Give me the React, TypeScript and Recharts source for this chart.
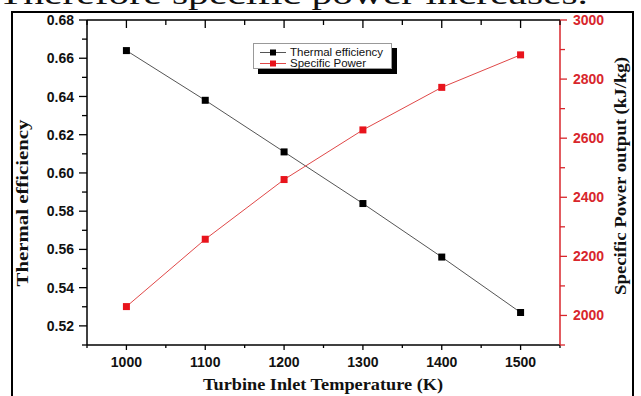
import React from 'react';
import { LineChart, Line, XAxis, YAxis, Legend } from 'recharts';

const temperatures = [1000, 1100, 1200, 1300, 1400, 1500];
const thermalEfficiency = [0.664, 0.638, 0.611, 0.584, 0.556, 0.527];
const specificPower = [2030, 2258, 2460, 2628, 2772, 2882];

const xTicks = [950, 1000, 1050, 1100, 1150, 1200, 1250, 1300, 1350, 1400, 1450, 1500, 1550];
const xLabels = [1000, 1100, 1200, 1300, 1400, 1500];
const leftTicks = [0.51, 0.52, 0.53, 0.54, 0.55, 0.56, 0.57, 0.58, 0.59, 0.6, 0.61, 0.62, 0.63, 0.64, 0.65, 0.66, 0.67, 0.68];
const leftLabels = [0.52, 0.54, 0.56, 0.58, 0.6, 0.62, 0.64, 0.66, 0.68];
const rightTicks = [1900, 2000, 2100, 2200, 2300, 2400, 2500, 2600, 2700, 2800, 2900, 3000];
const rightLabels = [2000, 2200, 2400, 2600, 2800, 3000];
const legendOrder = ['Thermal efficiency', 'Specific Power'];

const data = temperatures.map((t, i) => ({
  t,
  eff: thermalEfficiency[i],
  power: specificPower[i],
}));

const SANS = '"Liberation Sans", Arial, sans-serif';
const SERIF = '"Liberation Serif", "Times New Roman", serif';
const RED = '#d8262c';
const RED_MARK = '#e8141c';

const isIn = (arr: number[], v: number) => arr.some((a) => Math.abs(a - v) < 1e-6);

const LeftTick = (props: any) => {
  const { x, y, payload } = props;
  const v = payload.value as number;
  const major = isIn(leftLabels, v);
  const len = major ? 8 : 5;
  return (
    <g>
      <line x1={x - len} x2={x} y1={y} y2={y} stroke="#000" strokeWidth={1.3} />
      {major && (
        <text x={x - len - 5} y={y} dy="0.36em" textAnchor="end" fontFamily={SANS} fontWeight="bold" fontSize={14} fill="#111">
          {v.toFixed(2)}
        </text>
      )}
    </g>
  );
};

const RightTick = (props: any) => {
  const { x, y, payload } = props;
  const v = payload.value as number;
  const major = isIn(rightLabels, v);
  const len = major ? 7 : 5;
  return (
    <g>
      <line x1={x} x2={x + len} y1={y} y2={y} stroke={RED} strokeWidth={1.3} />
      {major && (
        <text x={x + 13} y={y} dy="0.36em" textAnchor="start" fontFamily={SANS} fontWeight="bold" fontSize={14} fill={RED}>
          {v}
        </text>
      )}
    </g>
  );
};

const BottomTick = (props: any) => {
  const { x, y, payload } = props;
  const v = payload.value as number;
  const major = isIn(xLabels, v);
  const len = major ? 5 : 3;
  return (
    <g>
      <line x1={x} x2={x} y1={y} y2={y + len} stroke="#000" strokeWidth={1.3} />
      {major && (
        <text x={x} y={y + 22} textAnchor="middle" fontFamily={SANS} fontWeight="bold" fontSize={14} fill="#111">
          {v}
        </text>
      )}
    </g>
  );
};

const TopTick = (props: any) => {
  const { x, y, payload } = props;
  const v = payload.value as number;
  const major = isIn(xLabels, v);
  const len = major ? 8 : 5;
  return <line x1={x} x2={x} y1={y} y2={y + len} stroke="#000" strokeWidth={1.3} />;
};

const squareDot = (color: string) => (p: any) => (
  <rect key={`d-${color}-${p.index}`} x={p.cx - 3.5} y={p.cy - 3.5} width={7} height={7} fill={color} />
);

const legendMarks: Record<string, { line: string; mark: string }> = {
  'Thermal efficiency': { line: '#555', mark: '#000' },
  'Specific Power': { line: '#e04848', mark: RED_MARK },
};

const LegendBox = (props: any) => {
  const payload = ([...(props.payload || [])] as any[]).sort(
    (a, b) => legendOrder.indexOf(a.value) - legendOrder.indexOf(b.value)
  );
  return (
    <div style={{ position: 'relative', width: 139, height: 26 }}>
      <div style={{ position: 'absolute', left: 5, top: 5, width: 139, height: 26, background: '#000' }} />
      <div
        style={{
          position: 'absolute',
          left: 0,
          top: 0,
          width: 139,
          height: 26,
          boxSizing: 'border-box',
          background: '#fff',
          border: '1px solid #999',
        }}
      >
        {payload.map((entry: any, i: number) => {
          const m = legendMarks[entry.value] || { line: entry.color, mark: entry.color };
          return (
            <div key={i} style={{ position: 'absolute', left: 5, top: 3 + i * 11, height: 11, display: 'flex', alignItems: 'center' }}>
              <svg width={28} height={11} style={{ display: 'block' }}>
                <line x1={1} x2={27} y1={5.5} y2={5.5} stroke={m.line} strokeWidth={1} />
                <rect x={11} y={2.5} width={6} height={6} fill={m.mark} />
              </svg>
              <span style={{ marginLeft: 3, fontFamily: SANS, fontSize: 11.5, lineHeight: '11px', color: '#111', whiteSpace: 'nowrap' }}>
                {entry.value}
              </span>
            </div>
          );
        })}
      </div>
    </div>
  );
};

export default function App() {
  return (
    <div style={{ position: 'fixed', left: 0, top: 0, width: 641, height: 396, overflow: 'hidden', background: '#fff' }}>
      <div
        style={{
          position: 'absolute',
          left: 11,
          top: 11,
          width: 623,
          height: 430,
          border: '2px solid #000',
          boxSizing: 'border-box',
        }}
      />
      <div style={{ position: 'absolute', left: 0, top: 0 }}>
        <LineChart width={641} height={396} data={data} margin={{ top: 0, right: 41, bottom: 21, left: 47 }}>
          <XAxis
            xAxisId="bottom"
            dataKey="t"
            type="number"
            domain={[950, 1550]}
            ticks={xTicks}
            interval={0}
            height={30}
            tickSize={0}
            tickMargin={0}
            tickLine={false}
            tick={<BottomTick />}
            axisLine={{ stroke: '#000', strokeWidth: 1.5 }}
          />
          <XAxis
            xAxisId="top"
            orientation="top"
            dataKey="t"
            type="number"
            domain={[950, 1550]}
            ticks={xTicks}
            interval={0}
            height={20}
            tickSize={0}
            tickMargin={0}
            tickLine={false}
            tick={<TopTick />}
            axisLine={{ stroke: '#000', strokeWidth: 1.5 }}
          />
          <YAxis
            yAxisId="left"
            orientation="left"
            type="number"
            domain={[0.51, 0.68]}
            ticks={leftTicks}
            interval={0}
            width={40}
            tickSize={0}
            tickMargin={0}
            tickLine={false}
            tick={<LeftTick />}
            axisLine={{ stroke: '#000', strokeWidth: 1.5 }}
          />
          <YAxis
            yAxisId="right"
            orientation="right"
            type="number"
            domain={[1900, 3000]}
            ticks={rightTicks}
            interval={0}
            width={40}
            tickSize={0}
            tickMargin={0}
            tickLine={false}
            tick={<RightTick />}
            axisLine={{ stroke: RED, strokeWidth: 1.5 }}
          />
          <Legend
            layout="horizontal"
            verticalAlign="middle"
            align="center"
            wrapperStyle={{ left: 253, top: 43, width: 145, height: 32 }}
            content={<LegendBox />}
          />
          <Line
            xAxisId="bottom"
            yAxisId="left"
            dataKey="eff"
            name="Thermal efficiency"
            stroke="#555"
            strokeWidth={1}
            dot={squareDot('#000')}
            activeDot={false}
            isAnimationActive={false}
          />
          <Line
            xAxisId="bottom"
            yAxisId="right"
            dataKey="power"
            name="Specific Power"
            stroke="#e04848"
            strokeWidth={1}
            dot={squareDot(RED_MARK)}
            activeDot={false}
            isAnimationActive={false}
          />
        </LineChart>
      </div>
      <svg width={641} height={396} style={{ position: 'absolute', left: 0, top: 0, pointerEvents: 'none' }}>
        <text x={-2} y={4} fontFamily={SERIF} fontSize={30} fill="#111" textLength={590} lengthAdjust="spacingAndGlyphs">
          Therefore specific power increases.
        </text>
        <text
          x={28}
          y={203}
          transform="rotate(-90 28 203)"
          textAnchor="middle"
          fontFamily={SERIF}
          fontWeight="bold"
          fontSize={16}
          fill="#111"
          textLength={167}
          lengthAdjust="spacingAndGlyphs"
        >
          Thermal efficiency
        </text>
        <text
          x={626}
          y={176}
          transform="rotate(-90 626 176)"
          textAnchor="middle"
          fontFamily={SERIF}
          fontWeight="bold"
          fontSize={16}
          fill="#111"
          textLength={238}
          lengthAdjust="spacingAndGlyphs"
        >
          Specific Power output (kJ/kg)
        </text>
        <text
          x={323}
          y={390}
          textAnchor="middle"
          fontFamily={SERIF}
          fontWeight="bold"
          fontSize={17}
          fill="#111"
          textLength={240}
          lengthAdjust="spacingAndGlyphs"
        >
          Turbine Inlet Temperature (K)
        </text>
      </svg>
    </div>
  );
}
